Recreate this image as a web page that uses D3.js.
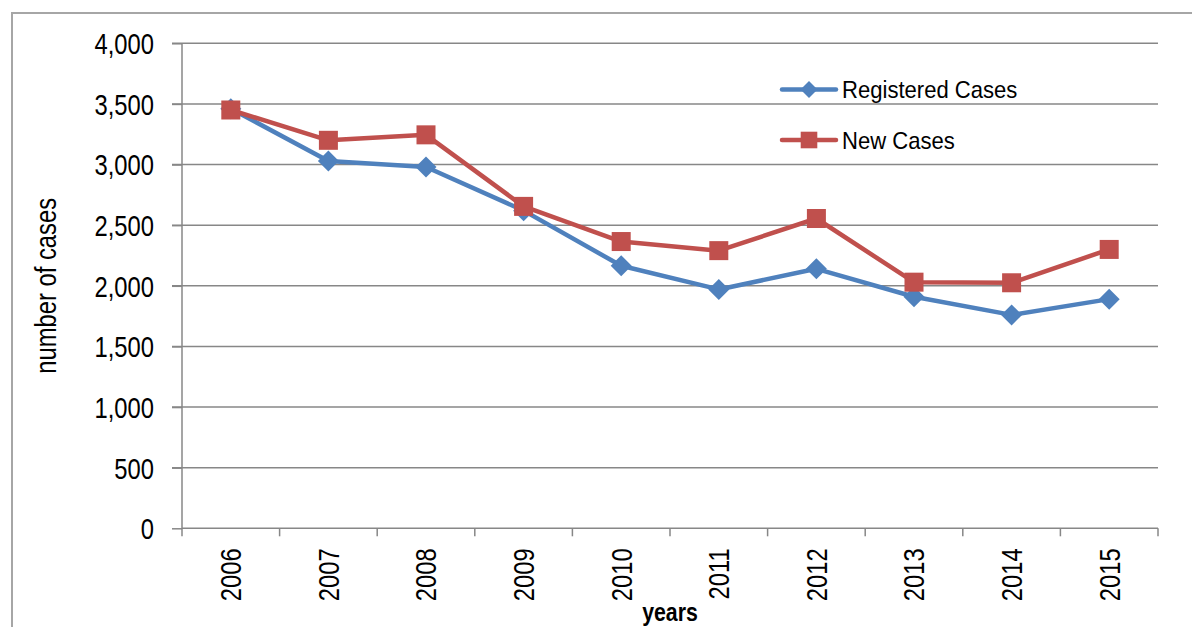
<!DOCTYPE html>
<html>
<head>
<meta charset="utf-8">
<script src="https://cdn.jsdelivr.net/npm/d3@7"></script>
<style>
  html, body { margin: 0; padding: 0; background: #fff; }
  svg { display: block; }
  text { font-family: "Liberation Sans", Arial, sans-serif; }
</style>
</head>
<body>
<svg id="chart" width="1192" height="627"></svg>
<script>
// Yearly case counts
const years = ["2006", "2007", "2008", "2009", "2010", "2011", "2012", "2013", "2014", "2015"];
const registeredCases = [3460, 3030, 2980, 2620, 2165, 1970, 2140, 1910, 1760, 1890];
const newCases = [3450, 3200, 3245, 2655, 2365, 2290, 2555, 2030, 2025, 2300];
const yTicks = [0, 500, 1000, 1500, 2000, 2500, 3000, 3500, 4000];
const seriesNames = ["Registered Cases", "New Cases"];

const svg = d3.select("#chart");
const W = 1192, H = 627;
const plot = { left: 182, right: 1158, top: 43.3, bottom: 528.3 };
const gridColor = "#878787";
const blue = "#4F81BD", red = "#C0504D";
const NARROW = 0.82; // horizontal condensing of axis lettering

// outer chart frame (top and left edges visible)
svg.append("path")
  .attr("d", `M12,${H} L12,13 L${W},13`)
  .attr("fill", "none").attr("stroke", "#a6a6a6").attr("stroke-width", 2);

const x = d3.scaleBand().domain(years).range([plot.left, plot.right]).padding(0);
const y = d3.scaleLinear().domain([0, 4000]).range([plot.bottom, plot.top]);

// horizontal gridlines (extend through the tick marks)
svg.append("g").selectAll("line").data(yTicks.filter(d => d > 0)).join("line")
  .attr("x1", plot.left - 10).attr("x2", plot.right)
  .attr("y1", d => y(d)).attr("y2", d => y(d))
  .attr("stroke", gridColor).attr("stroke-width", 1.5);

// y axis
const yAxis = svg.append("g")
  .attr("transform", `translate(${plot.left},0)`)
  .call(d3.axisLeft(y).tickValues(yTicks).tickSize(10).tickFormat(d3.format(",")));
yAxis.attr("font-family", null);
yAxis.select(".domain").attr("stroke", gridColor).attr("stroke-width", 1.5).attr("d", `M0,${plot.top}V${plot.bottom}`);
yAxis.selectAll(".tick line").attr("stroke", gridColor).attr("stroke-width", 1.5);
yAxis.selectAll(".tick text")
  .attr("font-size", 29).attr("fill", "#000")
  .attr("transform", `scale(${NARROW},1)`)
  .attr("x", -28 / NARROW).attr("dy", "0.36em");

// x axis: line, boundary ticks and rotated labels
const xAxis = svg.append("g")
  .attr("transform", `translate(0,${plot.bottom})`)
  .call(d3.axisBottom(x).tickSize(0));
xAxis.attr("font-family", null);
xAxis.select(".domain").attr("stroke", gridColor).attr("stroke-width", 1.5).attr("d", `M${plot.left},0H${plot.right}`);
xAxis.selectAll(".tick text")
  .attr("font-size", 29).attr("fill", "#000")
  .attr("transform", `rotate(-90) scale(${NARROW},1)`)
  .attr("text-anchor", "end")
  .attr("x", -20 / NARROW).attr("y", 0).attr("dy", "0.36em");
const bounds = years.map(d => x(d)).concat([x(years[years.length - 1]) + x.bandwidth()]);
xAxis.append("g").selectAll("line").data(bounds).join("line")
  .attr("x1", d => d).attr("x2", d => d).attr("y1", 0).attr("y2", 8)
  .attr("stroke", gridColor).attr("stroke-width", 1.5);

// axis titles
svg.append("text")
  .attr("transform", `translate(56,${(plot.top + plot.bottom) / 2}) rotate(-90) scale(${NARROW},1)`)
  .attr("text-anchor", "middle").attr("font-size", 29).attr("fill", "#000")
  .text("number of cases");
svg.append("text")
  .attr("transform", `translate(${(plot.left + plot.right) / 2},621) scale(${NARROW},1)`)
  .attr("text-anchor", "middle").attr("font-size", 26).attr("font-weight", "bold").attr("fill", "#000")
  .text("years");

// series
const cx = d => x(d) + x.bandwidth() / 2;
const line = d3.line().x(d => cx(d.year)).y(d => y(d.value));
const toPts = vals => years.map((yr, i) => ({ year: yr, value: vals[i] }));

const diamond = (s) => `M0,${-s}L${s},0L0,${s}L${-s},0Z`;

function drawSeries(vals, color, marker) {
  const pts = toPts(vals);
  const g = svg.append("g");
  g.append("path").datum(pts).attr("d", line)
    .attr("fill", "none").attr("stroke", color).attr("stroke-width", 4.5).attr("stroke-linejoin", "round");
  if (marker === "diamond") {
    g.selectAll("path.m").data(pts).join("path").attr("class", "m")
      .attr("transform", d => `translate(${cx(d.year)},${y(d.value)})`)
      .attr("d", diamond(10.5)).attr("fill", color);
  } else {
    g.selectAll("rect.m").data(pts).join("rect").attr("class", "m")
      .attr("x", d => cx(d.year) - 9.5).attr("y", d => y(d.value) - 9.5)
      .attr("width", 19).attr("height", 19).attr("fill", color);
  }
}
drawSeries(registeredCases, blue, "diamond");
drawSeries(newCases, red, "square");

// legend
const legend = svg.append("g");
const legendRows = [
  { name: seriesNames[0], color: blue, marker: "diamond", y: 89.5 },
  { name: seriesNames[1], color: red, marker: "square", y: 140 }
];
legendRows.forEach(r => {
  legend.append("line").attr("x1", 782).attr("x2", 836).attr("y1", r.y).attr("y2", r.y)
    .attr("stroke", r.color).attr("stroke-width", 4.5).attr("stroke-linecap", "round");
  if (r.marker === "diamond") {
    legend.append("path").attr("transform", `translate(809,${r.y})`).attr("d", diamond(8.5)).attr("fill", r.color);
  } else {
    legend.append("rect").attr("x", 809 - 8.3).attr("y", r.y - 8.3).attr("width", 16.6).attr("height", 16.6).attr("fill", r.color);
  }
  legend.append("text")
    .attr("transform", `translate(842,${r.y}) scale(0.92,1)`)
    .attr("dy", "0.36em")
    .attr("font-size", 24).attr("fill", "#000").text(r.name);
});
</script>
</body>
</html>
